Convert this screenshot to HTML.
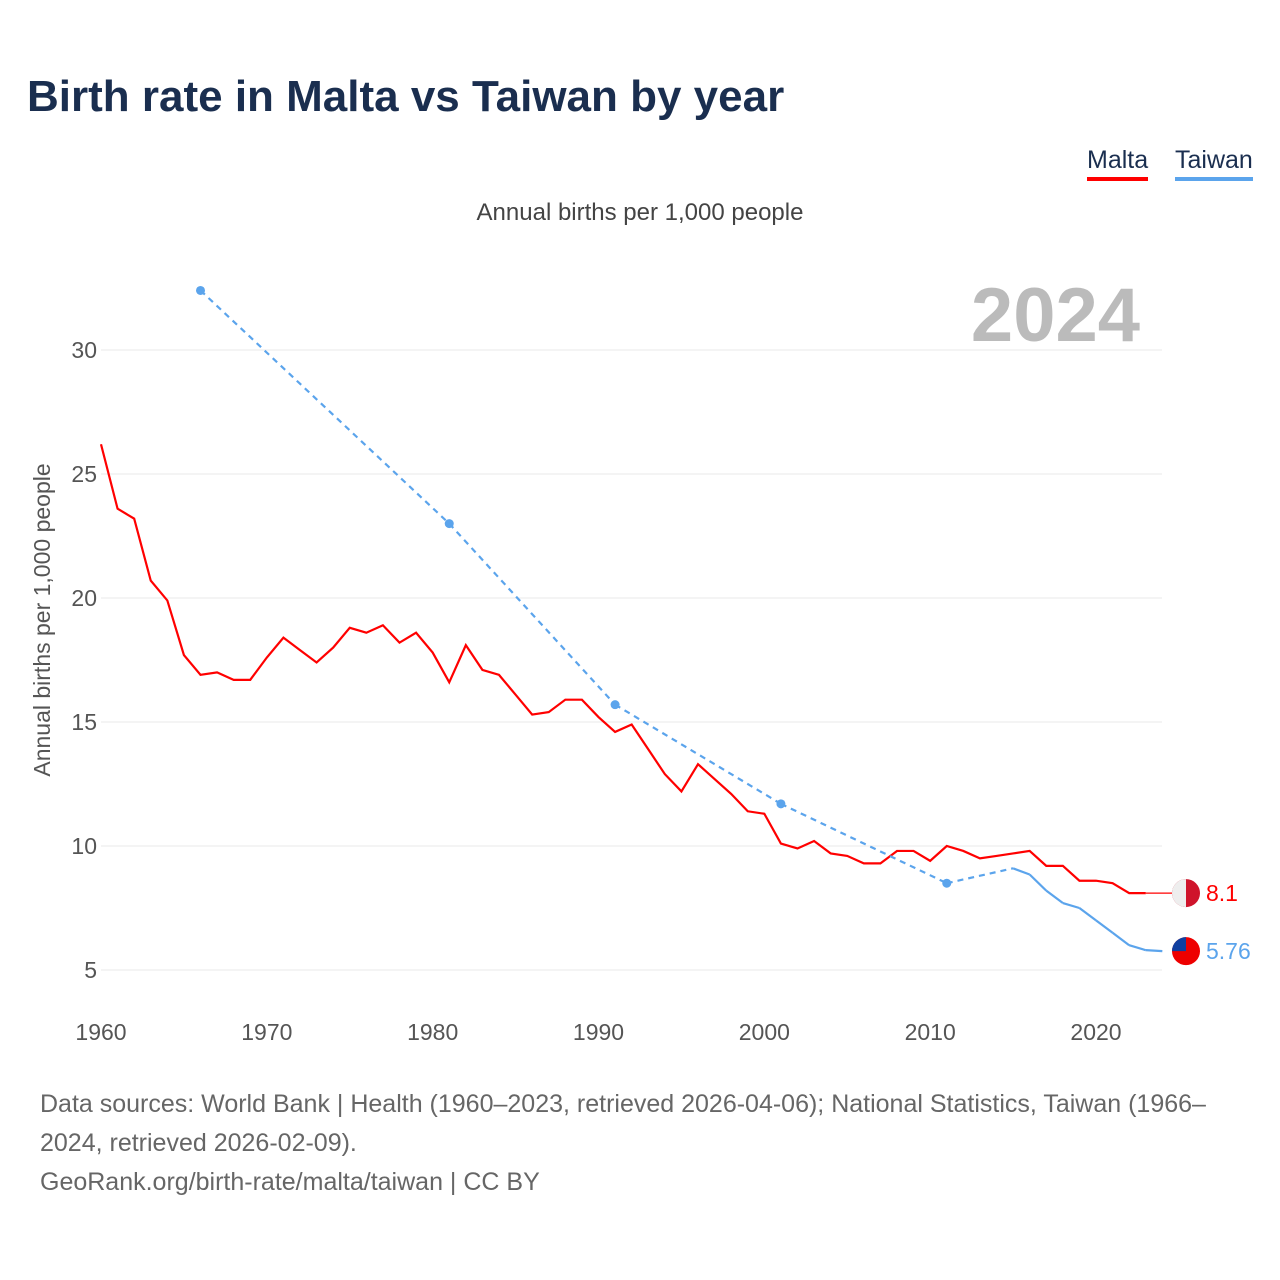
<!DOCTYPE html>
<html><head><meta charset="utf-8"><style>
body{margin:0;background:#fff;font-family:"Liberation Sans",sans-serif;}
#wrap{position:relative;width:1280px;height:1280px;}
h1{position:absolute;left:27px;top:72px;margin:0;font-size:44px;font-weight:bold;color:#1a2e4f;}
.leg{position:absolute;top:146px;font-size:25px;color:#1a2e4f;padding-bottom:2px;}
.foot{position:absolute;left:40px;top:1085px;font-size:25px;line-height:39px;color:#666;width:1220px;}
</style></head><body>
<div id="wrap">
<h1>Birth rate in Malta vs Taiwan by year</h1>
<div class="leg" style="left:1087px;border-bottom:4px solid #f00">Malta</div>
<div class="leg" style="left:1175px;border-bottom:4px solid #5ba4ec">Taiwan</div>
<svg id="svg" width="1280" height="1280" style="position:absolute;left:0;top:0"></svg>
<div class="foot">Data sources: World Bank | Health (1960–2023, retrieved 2026-04-06); National Statistics, Taiwan (1966–2024, retrieved 2026-02-09).<br>GeoRank.org/birth-rate/malta/taiwan | CC BY</div>
</div>
<script>
const maltaYears=[1960,1961,1962,1963,1964,1965,1966,1967,1968,1969,1970,1971,1972,1973,1974,1975,1976,1977,1978,1979,1980,1981,1982,1983,1984,1985,1986,1987,1988,1989,1990,1991,1992,1993,1994,1995,1996,1997,1998,1999,2000,2001,2002,2003,2004,2005,2006,2007,2008,2009,2010,2011,2012,2013,2014,2015,2016,2017,2018,2019,2020,2021,2022,2023];
const maltaValues=[26.2,23.6,23.2,20.7,19.9,17.7,16.9,17.0,16.7,16.7,17.6,18.4,17.9,17.4,18.0,18.8,18.6,18.9,18.2,18.6,17.8,16.6,18.1,17.1,16.9,16.1,15.3,15.4,15.9,15.9,15.2,14.6,14.9,13.9,12.9,12.2,13.3,12.7,12.1,11.4,11.3,10.1,9.9,10.2,9.7,9.6,9.3,9.3,9.8,9.8,9.4,10.0,9.8,9.5,9.6,9.7,9.8,9.2,9.2,8.6,8.6,8.5,8.1,8.1];
const taiwanYears=[1966,1981,1991,2001,2011,2015,2016,2017,2018,2019,2020,2021,2022,2023,2024];
const taiwanValues=[32.4,23.0,15.7,11.7,8.5,9.1,8.85,8.2,7.7,7.5,7.0,6.5,6.0,5.8,5.76];
const yTicks=[5,10,15,20,25,30];
const xTicks=[1960,1970,1980,1990,2000,2010,2020];
const NS="http://www.w3.org/2000/svg";
const svg=document.getElementById('svg');
const X=y=>101+(y-1960)*995/60;
const Y=v=>970-(v-5)*24.8;
function el(t,a,txt){const e=document.createElementNS(NS,t);for(const k in a)e.setAttribute(k,a[k]);if(txt!=null)e.textContent=txt;svg.appendChild(e);return e;}
let e;
e=el('text',{x:640,y:220,'text-anchor':'middle','font-size':24,fill:'#444'},'Annual births per 1,000 people');


e=el('text',{x:1140,y:341,'text-anchor':'end','font-size':76,'font-weight':'bold',fill:'#bbb'},'2024');


yTicks.forEach(t=>{
 e=el('line',{x1:101,x2:1162,y1:Y(t),y2:Y(t),stroke:'#e8e8e8','stroke-width':1});
 
 
 e=el('text',{x:97,y:Y(t)+8,'text-anchor':'end','font-size':23,fill:'#555'},t);
 
 
});
xTicks.forEach(t=>{
 e=el('text',{x:X(t),y:1040,'text-anchor':'middle','font-size':23,fill:'#555'},t);
 
 
});
e=el('text',{transform:'translate(50,620) rotate(-90)','text-anchor':'middle','font-size':23,fill:'#555'},'Annual births per 1,000 people');


let d=maltaYears.map((y,i)=>(i?'L':'M')+X(y)+','+Y(maltaValues[i])).join(' ');
e=el('path',{d:d,fill:'none',stroke:'#f00','stroke-width':2.2});


const lastM=maltaValues[maltaValues.length-1];
e=el('line',{x1:X(2023),x2:1172,y1:Y(lastM),y2:Y(lastM),stroke:'#f00','stroke-width':1.2});


for(let i=1;i<taiwanYears.length;i++){
 const gap=taiwanYears[i]-taiwanYears[i-1]>1;
 e=el('line',{x1:X(taiwanYears[i-1]),y1:Y(taiwanValues[i-1]),x2:X(taiwanYears[i]),y2:Y(taiwanValues[i]),stroke:'#5ba4ec','stroke-width':2.2,'stroke-dasharray':gap?'6,5':'none'});
 
 
}
for(let j=0;j<taiwanYears.length;j++){
 const next=taiwanYears[j+1];
 if(next!==undefined&&next-taiwanYears[j]>1){
  e=el('circle',{cx:X(taiwanYears[j]),cy:Y(taiwanValues[j]),r:4.5,fill:'#5ba4ec'});
  
  
 }
}
const lastT=taiwanValues[taiwanValues.length-1];
e=el('circle',{cx:1186,cy:Y(lastM),r:14,fill:'#cf142b'});


e=el('path',{d:`M1186,${Y(lastM)-14} A14,14 0 0 0 1186,${Y(lastM)+14} Z`,fill:'#eee'});


e=el('text',{x:1206,y:Y(lastM)+8,'font-size':23,fill:'#f00'},lastM);


e=el('circle',{cx:1186,cy:Y(lastT),r:14,fill:'#e00'});


e=el('path',{d:`M1172,${Y(lastT)} A14,14 0 0 1 1186,${Y(lastT)-14} L1186,${Y(lastT)} Z`,fill:'#1040a0'});


e=el('text',{x:1206,y:Y(lastT)+8,'font-size':23,fill:'#5ba4ec'},lastT);


</script>
</body></html>
